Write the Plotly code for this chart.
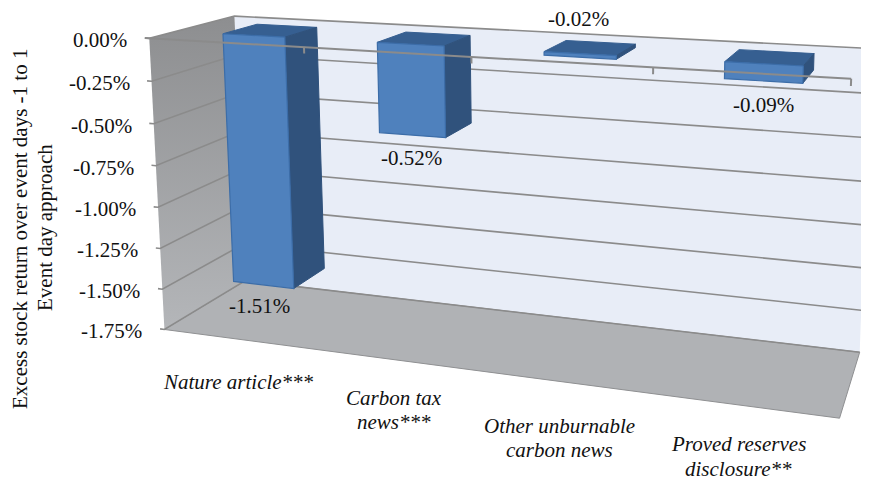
import numpy as np
import plotly.graph_objects as go

# ---- data ----
categories = [["Nature article***"], ["Carbon tax", "news***"],
              ["Other unburnable", "carbon news"], ["Proved reserves", "disclosure**"]]
values = [-1.51, -0.52, -0.02, -0.09]
value_labels = ["-1.51%", "-0.52%", "-0.02%", "-0.09%"]
tick_values = [0.0, -0.25, -0.5, -0.75, -1.0, -1.25, -1.5, -1.75]
tick_labels = ["0.00%", "-0.25%", "-0.50%", "-0.75%", "-1.00%", "-1.25%", "-1.50%", "-1.75%"]
axis_title = ["Excess stock return over event days -1 to 1", "Event day approach"]

# ---- style / placement of the 3-D look ----
BAR_X0, BAR_W = 0.315, 0.41
BAR_D0, BAR_D1 = 0.30, 0.72
label_dx = [-4, -1, -1, 0]
label_dy = [21, 23, -38, 24]
cat_dx = [1, 1, -1, -4]
cat_dy = [43, 38, 44, 39]
LINE_GAP = 24.5
FONT = "Liberation Serif"
TXT = "#111111"
PAGE_MARGIN = 8  # the browser's default body margin

# perspective calibration: box reference points (category pos, depth, value) -> picture position, weight
cal_world = [(0, 0, 0), (0, 1, 0), (0, 1, -1.75), (0, 0, -1.75), (4, 0, -1.75), (4, 1, -1.75), (4, 1, 0), (4, 0, 0),
             (1, 0, 0), (2, 0, 0), (3, 0, 0), (0, 0, -0.5), (0, 0, -1.0), (0, 0, -1.5)]
cal_pix = [(148, 39), (237, 15), (240, 281), (165, 329), (835, 417), (862, 353), (868, 48), (853, 79),
           (304, 48), (472, 57), (654, 68), (152, 124.5), (158, 208), (163, 289)]
cal_wgt = [3, 2, 1, 3, 3, 4, 4, 5, 1, 1, 2, 1, 1, 1]


def fit_projection(world, pix, wgt):
    rows = []
    for (X, Y, Z), (u, v), w in zip(world, pix, wgt):
        rows.append([w * c for c in [X, Y, Z, 1, 0, 0, 0, 0, -u * X, -u * Y, -u * Z, -u]])
        rows.append([w * c for c in [0, 0, 0, 0, X, Y, Z, 1, -v * X, -v * Y, -v * Z, -v]])
    return np.linalg.svd(np.array(rows, float))[2][-1].reshape(3, 4)


P = fit_projection(cal_world, cal_pix, cal_wgt)


def proj(x, d, z):
    h = P @ np.array([x, d, z, 1.0])
    return h[0] / h[2], h[1] / h[2]


fig = go.Figure()


def poly(pts, fill, line=None, width=1, gradient=None):
    xy = [proj(*p) for p in pts]
    xs = [a for a, _ in xy] + [xy[0][0]]
    ys = [b for _, b in xy] + [xy[0][1]]
    kw = dict(fill="toself", mode="lines", hoverinfo="skip", showlegend=False, x=xs, y=ys,
              line=dict(color=line or "rgba(0,0,0,0)", width=width))
    if gradient:
        kw["fillgradient"] = dict(type="vertical", colorscale=gradient)
    else:
        kw["fillcolor"] = fill
    fig.add_trace(go.Scatter(**kw))


def seg(pts, color="#8b8b8b", width=1.5):
    xy = [proj(*p) for p in pts]
    fig.add_trace(go.Scatter(x=[a for a, _ in xy], y=[b for _, b in xy], mode="lines", hoverinfo="skip",
                             showlegend=False, line=dict(color=color, width=width)))


ZMIN = min(tick_values)
N = len(categories)
# walls and floor
poly([(0, 1, 0), (N, 1, 0), (N, 1, ZMIN), (0, 1, ZMIN)], "#e8edf7")
poly([(0, 0, ZMIN), (N, 0, ZMIN), (N, 1, ZMIN), (0, 1, ZMIN)], "#b0b2b5", line="#8f9092", width=1)
poly([(0, 0, 0), (0, 1, 0), (0, 1, ZMIN), (0, 0, ZMIN)], "#9a9b9d",
     gradient=[[0, "#b4b6b9"], [1, "#8d8e90"]])
# gridlines
for t in tick_values:
    seg([(-0.03, 0, t), (0, 0, t), (0, 1, t), (N, 1, t)], width=1.6)
# bars
for i, v in enumerate(values):
    x0, x1 = i + BAR_X0, i + BAR_X0 + BAR_W
    d0, d1 = BAR_D0, BAR_D1
    poly([(x0, d0, 0), (x1, d0, 0), (x1, d1, 0), (x0, d1, 0)], "#365f91", line="#365f91", width=1)
    poly([(x1, d0, 0), (x1, d1, 0), (x1, d1, v), (x1, d0, v)], "#30527c", line="#30527c", width=1)
    poly([(x0, d0, 0), (x1, d0, 0), (x1, d0, v), (x0, d0, v)], "#4f81bd", line="#3c6da8", width=1.2)
# category axis line and its ticks, over the bars
seg([(-0.03, 0, 0), (N, 0, 0)], color="#8b8b8b", width=2)
for i in range(1, N + 1):
    seg([(i, 0, 0), (i, 0, -0.035)], color="#8b8b8b", width=2)

ann = []
for t, lab in zip(tick_values, tick_labels):
    px, py = proj(0, 0, t)
    ann.append(dict(x=px, y=py, xref="x", yref="y", text=lab, showarrow=False, xanchor="right", yanchor="middle",
                    xshift=-20, yshift=-2, font=dict(family=FONT, size=21, color=TXT)))
for i, (v, lab) in enumerate(zip(values, value_labels)):
    px, py = proj(i + BAR_X0 + BAR_W / 2, BAR_D0, v)
    ann.append(dict(x=px, y=py, xref="x", yref="y", text=lab, showarrow=False, xanchor="center", yanchor="middle",
                    xshift=label_dx[i], yshift=-label_dy[i], font=dict(family=FONT, size=21, color=TXT)))
for i, lines in enumerate(categories):
    px, py = proj(i + 0.5, 0, ZMIN)
    for j, lab in enumerate(lines):
        ann.append(dict(x=px, y=py, xref="x", yref="y", text=lab, showarrow=False, xanchor="center",
                        yanchor="middle", xshift=cat_dx[i], yshift=-(cat_dy[i] + j * LINE_GAP),
                        font=dict(family=FONT, size=21, color=TXT, style="italic")))
for x, y, lab in zip([20, 45], [229, 228], axis_title):
    ann.append(dict(x=x, y=y, xref="x", yref="y", text=lab, showarrow=False, textangle=-90,
                    xanchor="center", yanchor="middle", font=dict(family=FONT, size=21, color=TXT)))

hidden = dict(visible=False, fixedrange=True)
fig.update_layout(width=869 - PAGE_MARGIN, height=481 - PAGE_MARGIN, margin=dict(l=0, r=0, t=0, b=0),
                  paper_bgcolor="white", plot_bgcolor="white", annotations=ann,
                  xaxis=dict(range=[PAGE_MARGIN, 869], **hidden), yaxis=dict(range=[481, PAGE_MARGIN], **hidden))
fig.write_html("out.html", config={"displayModeBar": False})
